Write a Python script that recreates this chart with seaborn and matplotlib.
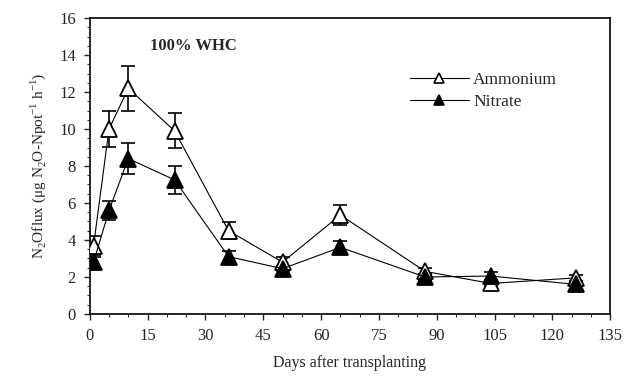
import numpy as np
import pandas as pd
import seaborn as sns
import matplotlib.pyplot as plt
from matplotlib.lines import Line2D
from matplotlib.ticker import MultipleLocator

days = [1, 5, 10, 22, 36, 50, 65, 87, 104, 126]
ammonium = [3.7, 10.0, 12.2, 9.9, 4.5, 2.8, 5.35, 2.3, 1.65, 1.95]
ammonium_err = [0.5, 0.95, 1.2, 0.95, 0.45, 0.3, 0.55, 0.2, 0.15, 0.15]
nitrate = [2.8, 5.6, 8.4, 7.25, 3.1, 2.45, 3.6, 2.0, 2.05, 1.6]
nitrate_err = [0.3, 0.5, 0.85, 0.75, 0.3, 0.15, 0.35, 0.15, 0.2, 0.1]

sns.set_theme(style="ticks")
plt.rcParams['font.family'] = ['Liberation Serif', 'DejaVu Serif']
plt.rcParams['mathtext.fontset'] = 'custom'
plt.rcParams['mathtext.rm'] = 'Liberation Serif'

series = {
    "Ammonium": (ammonium, ammonium_err, "white"),
    "Nitrate": (nitrate, nitrate_err, "black"),
}

fig = plt.figure(figsize=(6.41, 3.76), dpi=100)
ax = fig.add_axes([0.140, 0.165, 0.812, 0.787])

handles = []
for name, (vals, errs, face) in series.items():
    df = pd.DataFrame({"day": days, "flux": vals})
    ax.errorbar(days, vals, yerr=errs, fmt="none", ecolor="black",
                elinewidth=1.2, capsize=5, capthick=1.2, zorder=2)
    sns.lineplot(data=df, x="day", y="flux", color="black", linewidth=0.8,
                 marker="^", markersize=11, markerfacecolor=face,
                 markeredgecolor="black", markeredgewidth=1.3, ax=ax, zorder=3)
    handles.append(Line2D([], [], color="black", linewidth=0.8, marker="^",
                          markersize=7, markerfacecolor=face,
                          markeredgecolor="black", markeredgewidth=1.2))

ax.set_xlim(0, 135)
ax.set_ylim(0, 16)
ax.xaxis.set_major_locator(MultipleLocator(15))
ax.xaxis.set_minor_locator(MultipleLocator(5))
ax.yaxis.set_major_locator(MultipleLocator(2))
ax.yaxis.set_minor_locator(MultipleLocator(0.5))
ax.tick_params(which="major", direction="out", length=4, width=1, labelsize=12, pad=6)
ax.tick_params(which="minor", direction="out", length=2.5, width=0.8)
for s in ax.spines.values():
    s.set_linewidth(1.2)
    s.set_color("black")
    s.set_visible(True)

ax.set_xlabel("Days after transplanting", fontsize=11.5, labelpad=8)
ax.set_ylabel("N$_2$Oflux (μg N$_2$O-Npot$^{-1}$ h$^{-1}$)", fontsize=11, labelpad=8)

ax.text(15.5, 14.5, "100% WHC", fontsize=12, fontweight="bold", va="center")

ax.legend(handles, ["Ammonium", "Nitrate"], loc="upper left",
          bbox_to_anchor=(0.585, 0.87), frameon=False, fontsize=12.5,
          handlelength=3.4, handletextpad=0.25, labelspacing=0.3)

fig.savefig("out.png", dpi=100)
